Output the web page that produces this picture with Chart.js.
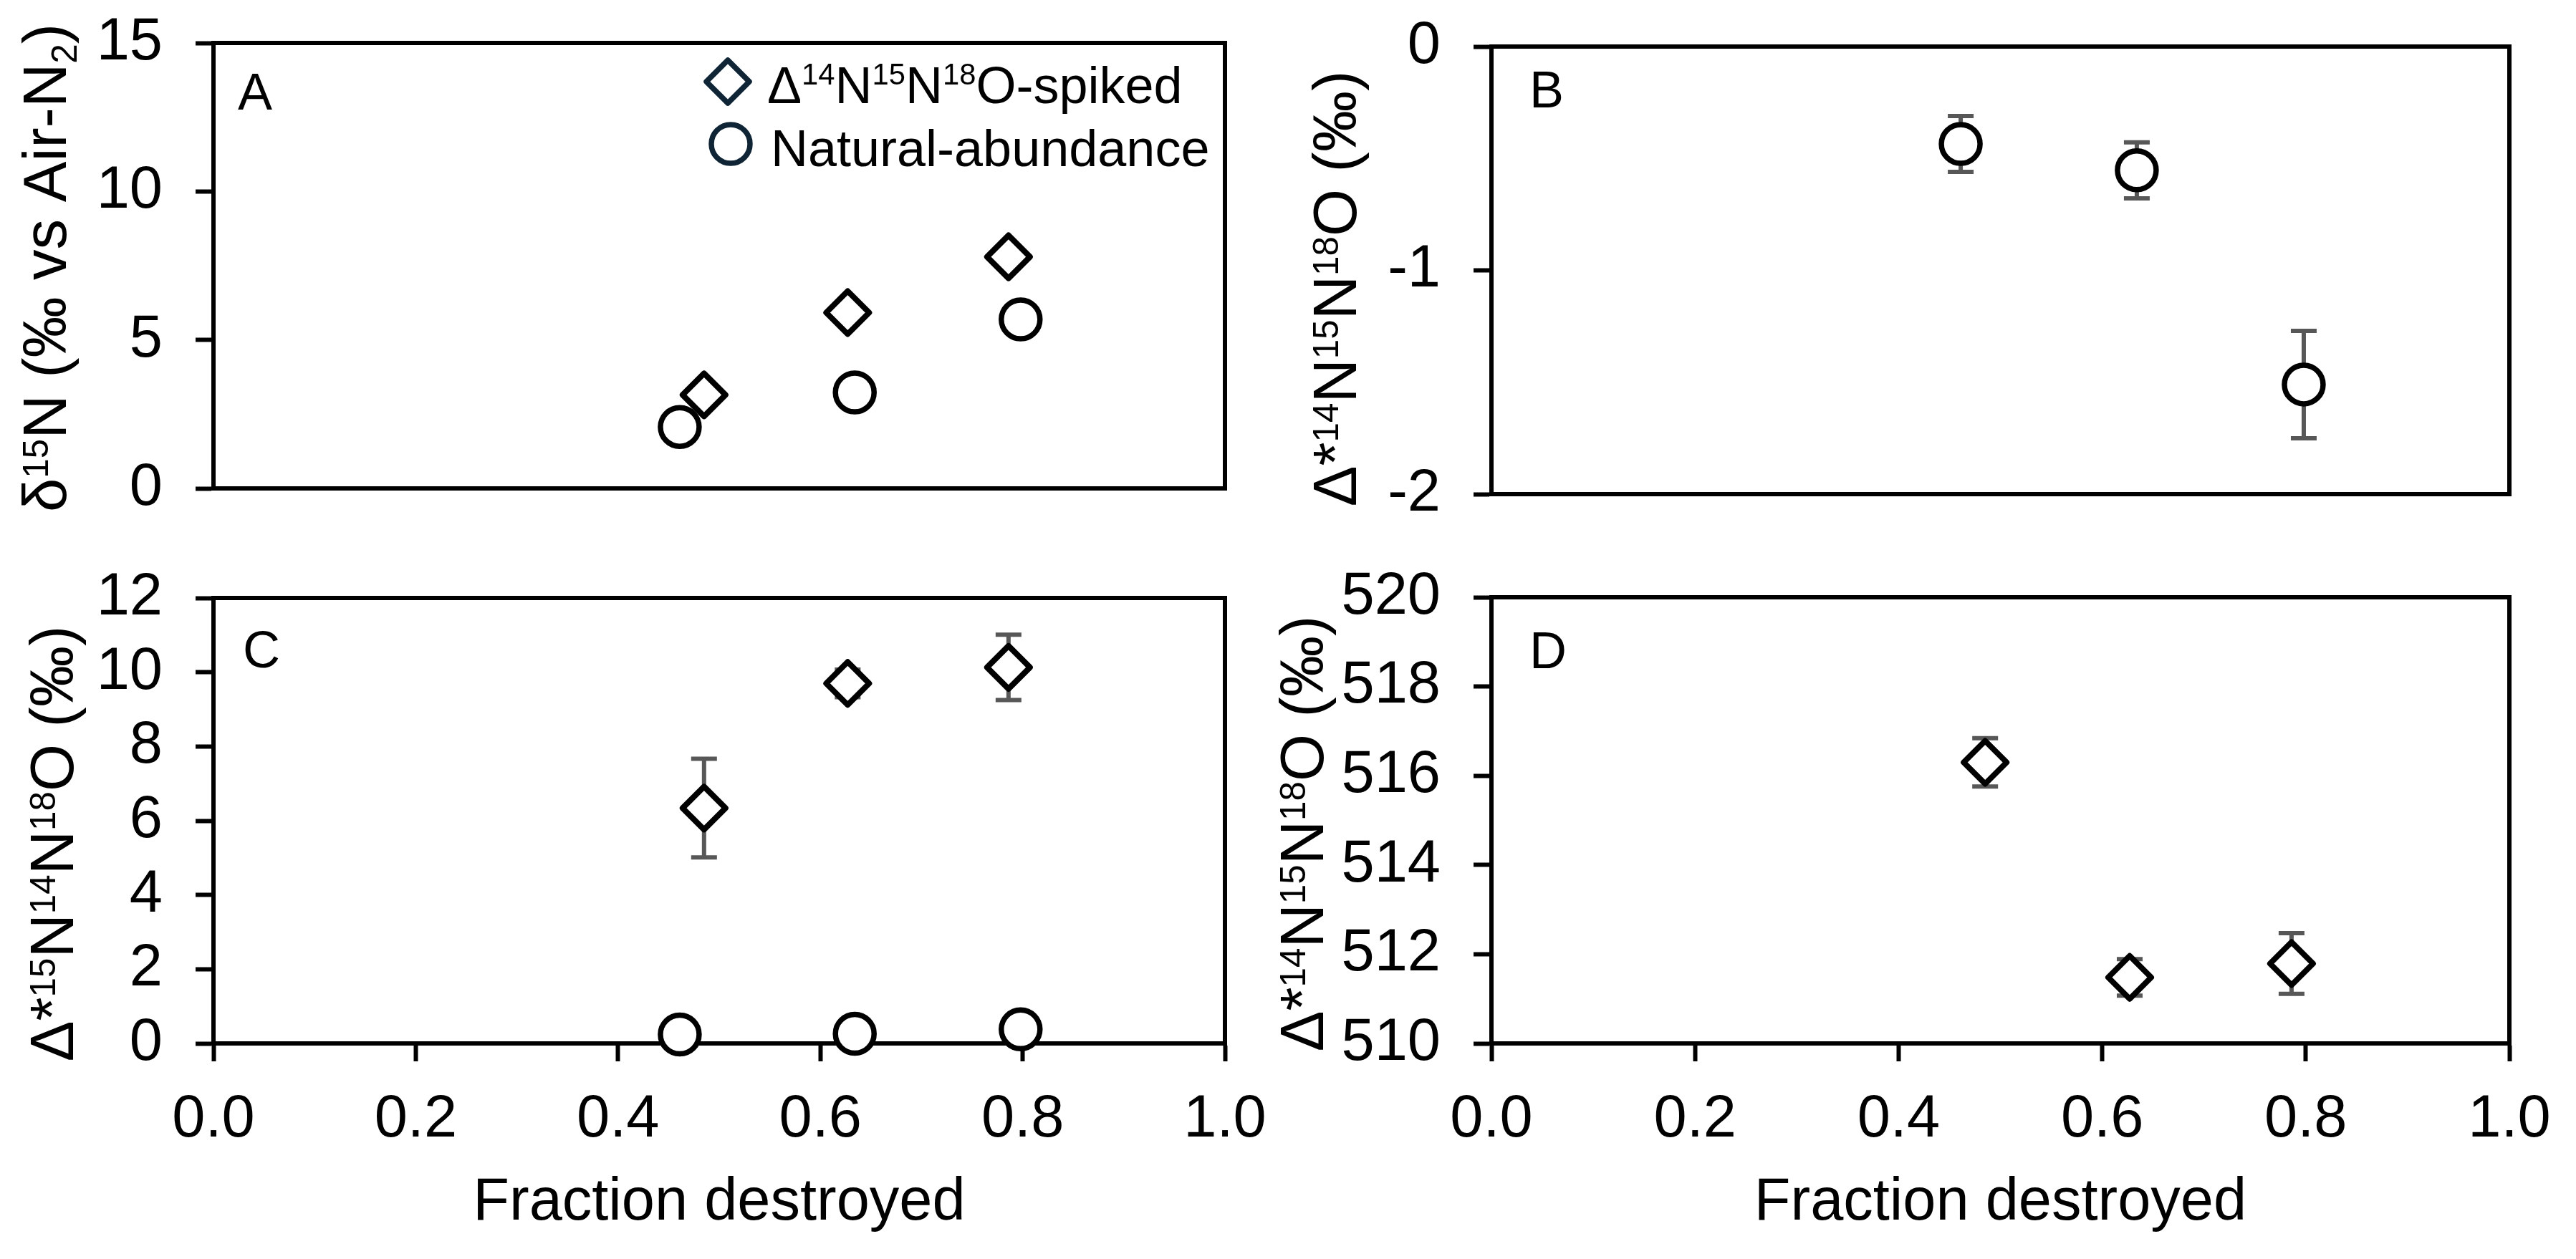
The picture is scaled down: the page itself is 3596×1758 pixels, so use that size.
<!DOCTYPE html>
<html>
<head>
<meta charset="utf-8">
<script src="https://cdn.jsdelivr.net/npm/chart.js@4.4.1/dist/chart.umd.min.js"></script>
<style>
  html, body { margin: 0; padding: 0; background: #fff; }
  #wrap { position: relative; width: 3596px; height: 1758px; }
  canvas { position: absolute; }
</style>
</head>
<body>
<div id="wrap">
  <canvas id="panelA" width="1798" height="760" style="left:0;top:0"></canvas>
  <canvas id="panelB" width="1856" height="760" style="left:1740px;top:0"></canvas>
  <canvas id="panelC" width="1798" height="998" style="left:0;top:760px"></canvas>
  <canvas id="panelD" width="1856" height="998" style="left:1740px;top:760px"></canvas>
</div>
<script>
const FONT = '"Liberation Sans", Arial, Helvetica, sans-serif';

// fraction destroyed for the two experiments
const xSpiked = [0.485, 0.627, 0.786];
const xNatural = [0.461, 0.634, 0.798];
const xTicks = [0, 0.2, 0.4, 0.6, 0.8, 1.0];

// A - d15N
const aSpiked = [3.15, 5.92, 7.8];
const aNatural = [2.07, 3.23, 5.69];
const aTicks = [0, 5, 10, 15];

// B - D*14N15N18O natural
const bNatural = [-0.435, -0.553, -1.51];
const bNaturalErr = [0.125, 0.125, 0.24];
const bTicks = [-2, -1, 0];

// C - D*15N14N18O
const cSpiked = [6.34, 9.7, 10.13];
const cSpikedErr = [1.33, 0.37, 0.88];
const cNatural = [0.24, 0.26, 0.38];
const cTicks = [0, 2, 4, 6, 8, 10, 12];

// D - D*14N15N18O spiked
const dSpiked = [516.3, 511.48, 511.79];
const dSpikedErr = [0.54, 0.41, 0.68];
const dTicks = [510, 512, 514, 516, 518, 520];

// texts (1 = superscript, -1 = subscript)
const titleA = [['δ', 0], ['15', 1], ['N (‰ vs Air-N', 0], ['2', -1], [')', 0]];
const titleB = [['Δ*', 0], ['14', 1], ['N', 0], ['15', 1], ['N', 0], ['18', 1], ['O (‰)', 0]];
const titleC = [['Δ*', 0], ['15', 1], ['N', 0], ['14', 1], ['N', 0], ['18', 1], ['O (‰)', 0]];
const legendSpiked = [['Δ', 0], ['14', 1], ['N', 0], ['15', 1], ['N', 0], ['18', 1], ['O-spiked', 0]];
const legendNatural = [['Natural-abundance', 0]];
const xTitle = 'Fraction destroyed';

Chart.defaults.font.family = FONT;
Chart.defaults.color = '#000';

function pts(xs, ys) {
  return xs.map((x, i) => ({ x: x, y: ys[i] }));
}

// draw text with small raised / lowered parts, baseline at y=0
function drawRich(ctx, parts, size, small, rise, drop, center) {
  let w = 0;
  parts.forEach(p => {
    ctx.font = (p[1] ? size * small : size) + 'px ' + FONT;
    w += ctx.measureText(p[0]).width;
  });
  let x = center ? -w / 2 : 0;
  parts.forEach(p => {
    ctx.font = (p[1] ? size * small : size) + 'px ' + FONT;
    let dy = 0;
    if (p[1] === 1) dy = -size * rise;
    if (p[1] === -1) dy = size * drop;
    ctx.fillText(p[0], x, dy);
    x += ctx.measureText(p[0]).width;
  });
}

function diamond(ctx, x, y, r) {
  ctx.beginPath();
  ctx.moveTo(x, y - r);
  ctx.lineTo(x + r, y);
  ctx.lineTo(x, y + r);
  ctx.lineTo(x - r, y);
  ctx.closePath();
}

const decorPlugin = {
  id: 'decor',
  beforeDatasetsDraw(chart, args, o) {
    const { ctx, chartArea: a, scales } = chart;
    ctx.save();
    // box round the plot
    ctx.strokeStyle = '#000';
    ctx.lineWidth = 6;
    ctx.strokeRect(a.left, a.top, a.right - a.left, a.bottom - a.top);
    // error bars
    ctx.strokeStyle = '#575757';
    ctx.lineWidth = 6;
    chart.data.datasets.forEach(ds => {
      if (!ds.errors) return;
      ds.data.forEach((p, i) => {
        const e = ds.errors[i];
        const px = scales.x.getPixelForValue(p.x);
        const lo = scales.y.getPixelForValue(p.y - e);
        const hi = scales.y.getPixelForValue(p.y + e);
        ctx.beginPath();
        ctx.moveTo(px, lo); ctx.lineTo(px, hi);
        ctx.moveTo(px - 18, lo); ctx.lineTo(px + 18, lo);
        ctx.moveTo(px - 18, hi); ctx.lineTo(px + 18, hi);
        ctx.stroke();
      });
    });
    ctx.restore();
    ctx.lineJoin = 'round';
  },
  afterDraw(chart, args, o) {
    const { ctx, chartArea: a } = chart;
    ctx.save();
    ctx.fillStyle = '#000';
    ctx.textBaseline = 'alphabetic';
    ctx.textAlign = 'left';
    // panel letter
    ctx.font = '72px ' + FONT;
    ctx.fillText(o.letter, a.left + o.letterX, a.top + o.letterY);
    // y axis title
    ctx.save();
    ctx.translate(a.left - o.titleX, o.titleY);
    ctx.rotate(-Math.PI / 2);
    drawRich(ctx, o.title, 85, 0.58, 0.3, 0.18, true);
    ctx.restore();
    // legend
    if (o.legend) {
      ctx.strokeStyle = '#0f2535';
      ctx.fillStyle = '#fff';
      ctx.lineWidth = 7.5;
      ctx.lineJoin = 'round';
      diamond(ctx, a.left + 718, a.top + 54, 30);
      ctx.fill(); ctx.stroke();
      ctx.beginPath();
      ctx.arc(a.left + 722, a.top + 141, 27, 0, Math.PI * 2);
      ctx.fill(); ctx.stroke();
      ctx.fillStyle = '#000';
      ctx.save();
      ctx.translate(a.left + 773, a.top + 84);
      drawRich(ctx, legendSpiked, 72, 0.58, 0.36, 0, false);
      ctx.restore();
      ctx.save();
      ctx.translate(a.left + 778, a.top + 172);
      drawRich(ctx, legendNatural, 72, 0.58, 0.36, 0, false);
      ctx.restore();
    }
    ctx.restore();
  }
};

function spikedSet(ys, errs) {
  return {
    label: 'spiked', data: pts(xSpiked, ys), errors: errs,
    pointStyle: 'rectRot', pointRadius: 30, pointBorderWidth: 8,
    pointBorderColor: '#000', pointBackgroundColor: '#fff', clip: false
  };
}

function naturalSet(ys, errs) {
  return {
    label: 'natural', data: pts(xNatural, ys), errors: errs,
    pointStyle: 'circle', pointRadius: 27, pointBorderWidth: 7.5,
    pointBorderColor: '#000', pointBackgroundColor: '#fff', clip: false
  };
}

function makeChart(id, c) {
  return new Chart(document.getElementById(id), {
    type: 'scatter',
    data: { datasets: c.datasets },
    options: {
      responsive: false,
      animation: false,
      devicePixelRatio: 1,
      events: [],
      layout: { padding: { left: 0, top: c.top, right: c.right, bottom: 0 } },
      plugins: {
        legend: { display: false },
        tooltip: { enabled: false },
        decor: c.decor
      },
      scales: {
        x: {
          type: 'linear', min: 0, max: 1,
          afterBuildTicks: s => { s.ticks = xTicks.map(v => ({ value: v })); },
          afterFit: s => { s.height = c.xHeight; s.paddingLeft = 0; s.paddingRight = 0; },
          ticks: {
            display: c.showX, font: { size: 83 }, padding: 32,
            maxRotation: 0, autoSkip: false, callback: v => v.toFixed(1)
          },
          grid: { display: c.showX, drawOnChartArea: false, tickLength: 25, tickWidth: 6, tickColor: '#000' },
          border: { display: true, color: '#000', width: 6 },
          title: {
            display: c.showX, text: xTitle, color: '#000',
            font: { size: 83 }, padding: { top: 0, bottom: 28 }
          }
        },
        y: {
          type: 'linear', min: c.yTicks[0], max: c.yTicks[c.yTicks.length - 1],
          afterBuildTicks: s => { s.ticks = c.yTicks.map(v => ({ value: v })); },
          afterFit: s => { s.width = c.yWidth; s.paddingTop = 0; s.paddingBottom = 0; },
          ticks: { font: { size: 83 }, padding: 46, autoSkip: false, callback: v => String(v) },
          grid: { drawOnChartArea: false, tickLength: 25, tickWidth: 6, tickColor: '#000' },
          border: { display: true, color: '#000', width: 6 }
        }
      }
    },
    plugins: [decorPlugin]
  });
}

makeChart('panelA', {
  datasets: [spikedSet(aSpiked), naturalSet(aNatural)],
  yTicks: aTicks, top: 60, right: 88, yWidth: 298, xHeight: 78, showX: false,
  decor: { letter: 'A', letterX: 34, letterY: 93, title: titleA, titleX: 206, titleY: 374, legend: true }
});

makeChart('panelB', {
  datasets: [naturalSet(bNatural, bNaturalErr)],
  yTicks: bTicks, top: 65, right: 93, yWidth: 342, xHeight: 70, showX: false,
  decor: { letter: 'B', letterX: 53, letterY: 85, title: titleB, titleX: 189, titleY: 403 }
});

makeChart('panelC', {
  datasets: [spikedSet(cSpiked, cSpikedErr), naturalSet(cNatural)],
  yTicks: cTicks, top: 75, right: 88, yWidth: 298, xHeight: 301, showX: true,
  decor: { letter: 'C', letterX: 41, letterY: 97, title: titleC, titleX: 196, titleY: 418 }
});

makeChart('panelD', {
  datasets: [spikedSet(dSpiked, dSpikedErr)],
  yTicks: dTicks, top: 74, right: 93, yWidth: 342, xHeight: 301, showX: true,
  decor: { letter: 'D', letterX: 53, letterY: 99, title: titleB, titleX: 235, titleY: 404 }
});
</script>
</body>
</html>
